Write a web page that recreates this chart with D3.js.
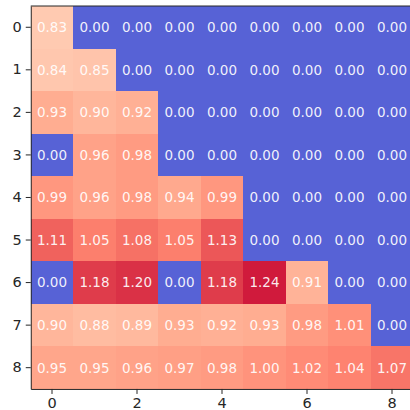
<!DOCTYPE html>
<html>
<head>
<meta charset="utf-8">
<style>
  body { margin: 0; background: #fff; }
  svg { display: block; }
  .cell rect { shape-rendering: crispEdges; }
  .cell text { font: 13.5px "DejaVu Sans", sans-serif; fill: #fff; text-anchor: middle; }
  .axis text { font: 14.5px "DejaVu Sans", sans-serif; fill: #262626; }
  .axis path, .axis line { stroke: #262626; }
</style>
</head>
<body>
<svg width="410" height="410"></svg>
<script src="https://d3js.org/d3.v7.min.js"></script>
<script>
var rows = [0, 1, 2, 3, 4, 5, 6, 7, 8];
var cols = [0, 1, 2, 3, 4, 5, 6, 7, 8];
var xTicks = [0, 2, 4, 6, 8];

var values = [
  [0.83, 0.00, 0.00, 0.00, 0.00, 0.00, 0.00, 0.00, 0.00],
  [0.84, 0.85, 0.00, 0.00, 0.00, 0.00, 0.00, 0.00, 0.00],
  [0.93, 0.90, 0.92, 0.00, 0.00, 0.00, 0.00, 0.00, 0.00],
  [0.00, 0.96, 0.98, 0.00, 0.00, 0.00, 0.00, 0.00, 0.00],
  [0.99, 0.96, 0.98, 0.94, 0.99, 0.00, 0.00, 0.00, 0.00],
  [1.11, 1.05, 1.08, 1.05, 1.13, 0.00, 0.00, 0.00, 0.00],
  [0.00, 1.18, 1.20, 0.00, 1.18, 1.24, 0.91, 0.00, 0.00],
  [0.90, 0.88, 0.89, 0.93, 0.92, 0.93, 0.98, 1.01, 0.00],
  [0.95, 0.95, 0.96, 0.97, 0.98, 1.00, 1.02, 1.04, 1.07]
];

var svg = d3.select("svg");

// plot area (last column runs past the right edge like the original)
var marginLeft = 30.75, marginTop = 6, cw = 42.5, ch = 42.55;

var x = d3.scaleBand().domain(cols).range([marginLeft, marginLeft + cw * cols.length]);
var y = d3.scaleBand().domain(rows).range([marginTop, marginTop + ch * rows.length]);

// matplotlib coolwarm sampled, lifted a little to match the brighter original
var coolwarm = d3.interpolateRgbBasis(["#3b4cc0", "#6788ee", "#9abbff", "#c9d7f0",
                                       "#edd1c2", "#f7a889", "#e26952", "#b40426"]);
var vmax = d3.max(values, function(r) { return d3.max(r); });
var color = function(v) {
  var c = d3.rgb(coolwarm(v / vmax));
  return d3.rgb(Math.min(255, c.r + 28), Math.min(255, c.g + 22), Math.min(255, c.b + 22)).formatHex();
};

var cells = [];
values.forEach(function(r, i) {
  r.forEach(function(v, j) { cells.push({row: rows[i], col: cols[j], value: v}); });
});

var cell = svg.append("g").selectAll(".cell")
  .data(cells)
  .enter().append("g")
  .attr("class", "cell");

cell.append("rect")
  .attr("x", function(d) { return x(d.col); })
  .attr("y", function(d) { return y(d.row); })
  .attr("width", x.bandwidth() + 0.5)
  .attr("height", y.bandwidth() + 0.5)
  .attr("fill", function(d) { return color(d.value); });

cell.append("text")
  .attr("x", function(d) { return x(d.col) + x.bandwidth() / 2; })
  .attr("y", function(d) { return y(d.row) + y.bandwidth() / 2; })
  .attr("dy", "0.36em")
  .attr("fill-opacity", 0.92)
  .text(function(d) { return d.value.toFixed(2); });

var bottom = marginTop + ch * rows.length;

svg.append("g")
  .attr("class", "axis")
  .attr("transform", "translate(" + marginLeft + ",0)")
  .call(d3.axisLeft(y).tickValues(rows).tickSize(5).tickPadding(4).tickSizeOuter(0));

svg.append("g")
  .attr("class", "axis")
  .attr("transform", "translate(0," + bottom + ")")
  .call(d3.axisBottom(x).tickValues(xTicks).tickSize(5).tickPadding(4).tickSizeOuter(0));

// top spine
svg.append("line")
  .attr("x1", marginLeft).attr("x2", 410)
  .attr("y1", marginTop).attr("y2", marginTop)
  .attr("stroke", "#262626");
</script>
</body>
</html>
